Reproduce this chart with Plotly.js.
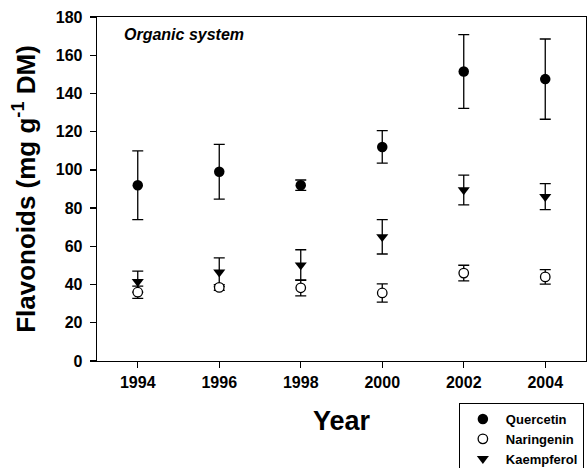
<!DOCTYPE html>
<html>
<head>
<meta charset="utf-8">
<script src="https://cdn.plot.ly/plotly-3.0.1.min.js"></script>
<style>html,body{margin:0;padding:0;background:#fff;}#chart{width:587px;height:468px;}</style>
</head>
<body>
<div id="chart"></div>
<script>
const years = [1994, 1996, 1998, 2000, 2002, 2004];
const quercetin = [92, 99, 92, 112, 151.5, 147.5];
const quercetinErr = [18, 14.3, 2.7, 8.5, 19.3, 21];
const naringenin = [36, 38.5, 38.3, 35.6, 46, 44];
const naringeninErr = [3.2, 1.5, 4.2, 4.8, 4.1, 3.8];
const kaempferol = [41.5, 46.5, 50.2, 65, 89.5, 86];
const kaempferolErr = [5.5, 7.5, 8, 9, 7.8, 6.8];
const xTicks = [1994, 1996, 1998, 2000, 2002, 2004];
const yTicks = [0, 20, 40, 60, 80, 100, 120, 140, 160, 180];

const FONT = 'Arial, "Liberation Sans", sans-serif';
const err = (arr) => ({type: 'data', array: arr, visible: true, color: '#000', thickness: 1.3, width: 5.5});

const traces = [
  {x: years, y: quercetin, name: 'Quercetin', type: 'scatter', mode: 'markers', legendrank: 1,
   marker: {symbol: 'circle', size: 10.5, color: '#000', line: {width: 0}}, error_y: err(quercetinErr)},
  {x: years, y: kaempferol, name: 'Kaempferol', type: 'scatter', mode: 'markers', legendrank: 3,
   marker: {symbol: 'triangle-down', size: 10.5, color: '#000', line: {width: 0}}, error_y: err(kaempferolErr)},
  {x: years, y: naringenin, name: 'Naringenin', type: 'scatter', mode: 'markers', legendrank: 2,
   marker: {symbol: 'circle', size: 9.5, color: '#fff', line: {width: 1.3, color: '#000'}}, error_y: err(naringeninErr)}
];

const layout = {
  width: 587, height: 468,
  margin: {l: 97, r: 1, t: 17, b: 107, autoexpand: false},
  paper_bgcolor: '#fff', plot_bgcolor: '#fff',
  font: {family: FONT, color: '#000'},
  showlegend: true,
  legend: {x: 0.740, y: -0.122, xanchor: 'left', yanchor: 'top', bordercolor: '#000', borderwidth: 1,
           itemwidth: 36, bgcolor: '#fff', font: {family: FONT, size: 13, weight: 'bold', color: '#000'}},
  xaxis: {range: [1993, 2005], tickvals: xTicks, ticktext: xTicks.map(String), ticks: 'outside', ticklen: 6,
          tickwidth: 1.3, tickcolor: '#000', showline: true, linecolor: '#000', linewidth: 1.3, mirror: true,
          showgrid: false, zeroline: false,
          tickfont: {family: FONT, size: 16, weight: 'bold', color: '#000'},
          title: {text: 'Year', font: {family: FONT, size: 27, weight: 'bold', color: '#000'}, standoff: 21}},
  yaxis: {range: [0, 180], tickvals: yTicks, ticks: 'outside', ticklen: 6, ticklabelstandoff: 4,
          tickwidth: 1.3, tickcolor: '#000', showline: true, linecolor: '#000', linewidth: 1.3, mirror: true,
          showgrid: false, zeroline: false,
          tickfont: {family: FONT, size: 16, weight: 'bold', color: '#000'},
          title: {text: 'Flavonoids (mg g<sup>-1</sup> DM)', font: {family: FONT, size: 26, weight: 'bold', color: '#000'}, standoff: 12}},
  annotations: [
    {xref: 'paper', yref: 'paper', x: 0.052, y: 0.948, xanchor: 'left', yanchor: 'middle', showarrow: false,
     text: '<b><i>Organic system</i></b>', font: {family: FONT, size: 16, color: '#000'}}
  ]
};

Plotly.newPlot('chart', traces, layout, {displayModeBar: false, staticPlot: true});
</script>
</body>
</html>
